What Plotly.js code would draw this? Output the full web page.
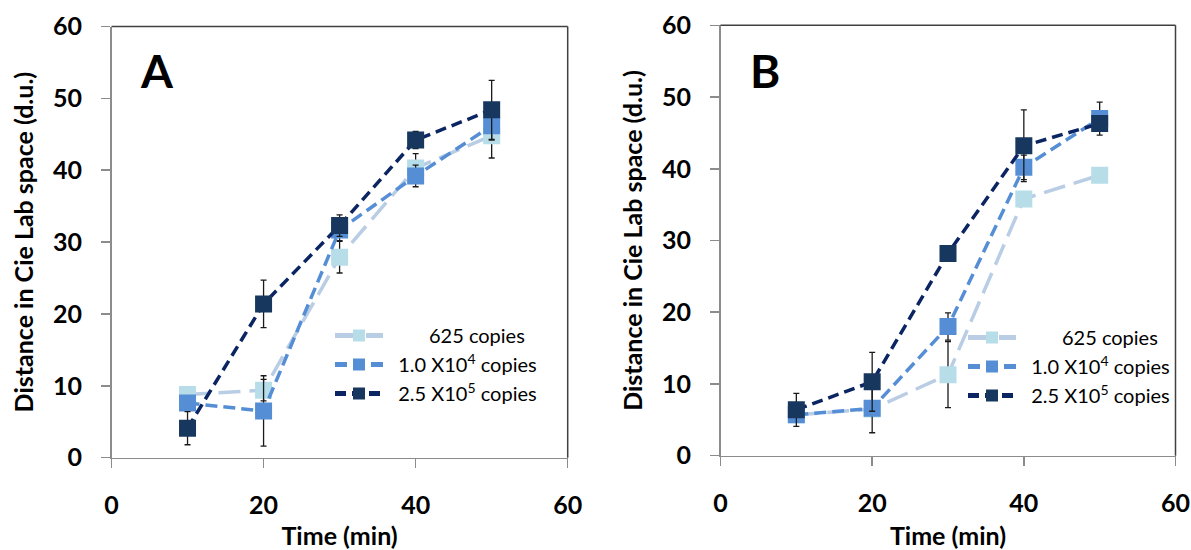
<!DOCTYPE html>
<html>
<head>
<meta charset="utf-8">
<script src="https://cdn.plot.ly/plotly-3.0.1.min.js"></script>
<style>html,body{margin:0;padding:0;background:#fff;}#chart{width:1191px;height:550px;}</style>
</head>
<body>
<div id="chart"></div>
<script>
// ---- data ----
const time = [10, 20, 30, 40, 50];
const seriesNames = ["&nbsp;&nbsp;&nbsp;&nbsp;&nbsp;&nbsp;&nbsp;&nbsp;625 copies", "&nbsp;&nbsp;1.0 X10<sup>4</sup> copies", "&nbsp;&nbsp;2.5 X10<sup>5</sup> copies"];

// Panel A
const A_625 = [8.8, 9.4, 27.9, 40.3, 44.8];
const A_625_err = [1.0, 1.5, 2.2, 2.0, 3.1];
const A_1e4 = [7.6, 6.5, 31.7, 39.2, 46.2];
const A_1e4_err = [1.0, 4.9, 1.5, 1.5, 2.0];
const A_25e5 = [4.1, 21.4, 32.3, 44.2, 48.4];
const A_25e5_err = [2.3, 3.3, 1.5, 1.2, 4.1];

// Panel B
const B_625 = [5.7, 6.5, 11.3, 35.8, 39.1];
const B_625_err = [0.8, 1.0, 4.6, 1.0, 0.6];
const B_1e4 = [5.7, 6.6, 18.0, 40.2, 47.0];
const B_1e4_err = [1.0, 3.4, 1.9, 1.7, 2.3];
const B_25e5 = [6.4, 10.3, 28.2, 43.2, 46.3];
const B_25e5_err = [2.3, 4.1, 0.8, 5.0, 0.8];

const xTicks = [0, 20, 40, 60];
const yTicks = [0, 10, 20, 30, 40, 50, 60];

// ---- styles ----
const styles = [
  {line: '#B9CDE5', marker: '#B7DDE8', dash: '22px,9px'},
  {line: '#558ED5', marker: '#558ED5', dash: '12px,6px'},
  {line: '#0B2563', marker: '#17375E', dash: '11px,6px'}
];

function mk(y, err, i, xa, ya, leg) {
  const s = styles[i];
  return {
    x: time, y: y, xaxis: xa, yaxis: ya, legend: leg,
    name: seriesNames[i], type: 'scatter', mode: 'lines+markers',
    line: {color: s.line, width: 3.5, dash: s.dash},
    marker: {symbol: 'square', size: 17, color: s.marker},
    error_y: {type: 'data', array: err, visible: true, color: '#1a1a1a', thickness: 1.3, width: 3},
    hoverinfo: 'x+y'
  };
}

const data = [
  mk(A_625, A_625_err, 0, 'x', 'y', 'legend'),
  mk(A_1e4, A_1e4_err, 1, 'x', 'y', 'legend'),
  mk(A_25e5, A_25e5_err, 2, 'x', 'y', 'legend'),
  mk(B_625, B_625_err, 0, 'x2', 'y2', 'legend2'),
  mk(B_1e4, B_1e4_err, 1, 'x2', 'y2', 'legend2'),
  mk(B_25e5, B_25e5_err, 2, 'x2', 'y2', 'legend2')
];

const FONT = 'Lato, "Open Sans", sans-serif';
const tickFont = {family: FONT, size: 25, color: '#000', weight: 'bold'};
const titleFont = {family: FONT, size: 25, color: '#000', weight: 'bold'};

function xaxisDef(domain, anchor) {
  return {
    domain: domain, anchor: anchor, range: [0, 60], tickvals: xTicks, ticktext: xTicks.map(String),
    showgrid: false, zeroline: false, showline: true, linecolor: '#8c8c8c', linewidth: 1.5,
    ticks: 'outside', ticklen: 9, tickcolor: '#8c8c8c', tickwidth: 1.5,
    tickfont: tickFont, ticklabelstandoff: 16,
    title: {text: 'Time (min)', font: titleFont, standoff: 12},
    fixedrange: true
  };
}
function yaxisDef(domain, anchor) {
  return {
    domain: domain, anchor: anchor, range: [0, 60], tickvals: yTicks, ticktext: yTicks.map(String),
    showgrid: false, zeroline: false, showline: true, linecolor: '#8c8c8c', linewidth: 1.5,
    ticks: 'outside', ticklen: 9, tickcolor: '#8c8c8c', tickwidth: 1.5,
    tickfont: tickFont, ticklabelstandoff: 14,
    title: {text: 'Distance in Cie Lab space (d.u.)', font: titleFont, standoff: 12},
    fixedrange: true
  };
}

const W = 1191, H = 550;
const legFont = {family: FONT, size: 20, color: '#000'};

const layout = {
  width: W, height: H,
  margin: {l: 0, r: 0, t: 0, b: 0},
  paper_bgcolor: '#fff', plot_bgcolor: '#fff',
  showlegend: true,
  xaxis: xaxisDef([111.5 / W, 567.7 / W], 'y'),
  yaxis: yaxisDef([(H - 457.7) / H, (H - 26.5) / H], 'x'),
  xaxis2: xaxisDef([720.5 / W, 1175.5 / W], 'y2'),
  yaxis2: yaxisDef([(H - 455.7) / H, (H - 25.3) / H], 'x2'),
  legend: {x: 330 / W, y: (H - 316) / H, xanchor: 'left', yanchor: 'top', font: legFont,
           bgcolor: 'rgba(0,0,0,0)', itemwidth: 48, itemsizing: 'constant', tracegroupgap: 0},
  legend2: {x: 963 / W, y: (H - 318) / H, xanchor: 'left', yanchor: 'top', font: legFont,
            bgcolor: 'rgba(0,0,0,0)', itemwidth: 48, itemsizing: 'constant', tracegroupgap: 0},
  shapes: [
    {type: 'line', xref: 'x domain', yref: 'y domain', x0: 0, x1: 1, y0: 1, y1: 1, line: {color: '#404040', width: 1.5}},
    {type: 'line', xref: 'x domain', yref: 'y domain', x0: 1, x1: 1, y0: 0, y1: 1, line: {color: '#404040', width: 1.5}},
    {type: 'line', xref: 'x2 domain', yref: 'y2 domain', x0: 0, x1: 1, y0: 1, y1: 1, line: {color: '#404040', width: 1.5}},
    {type: 'line', xref: 'x2 domain', yref: 'y2 domain', x0: 1, x1: 1, y0: 0, y1: 1, line: {color: '#404040', width: 1.5}}
  ],
  annotations: [
    {text: '<b>A</b>', xref: 'paper', yref: 'paper', x: 138 / W, y: (H - 70) / H, xanchor: 'left', yanchor: 'middle',
     showarrow: false, font: {family: FONT, size: 46, color: '#000'}},
    {text: '<b>B</b>', xref: 'paper', yref: 'paper', x: 748 / W, y: (H - 70) / H, xanchor: 'left', yanchor: 'middle',
     showarrow: false, font: {family: FONT, size: 46, color: '#000'}}
  ]
};

Plotly.newPlot('chart', data, layout, {displayModeBar: false, staticPlot: true});
</script>
</body>
</html>
